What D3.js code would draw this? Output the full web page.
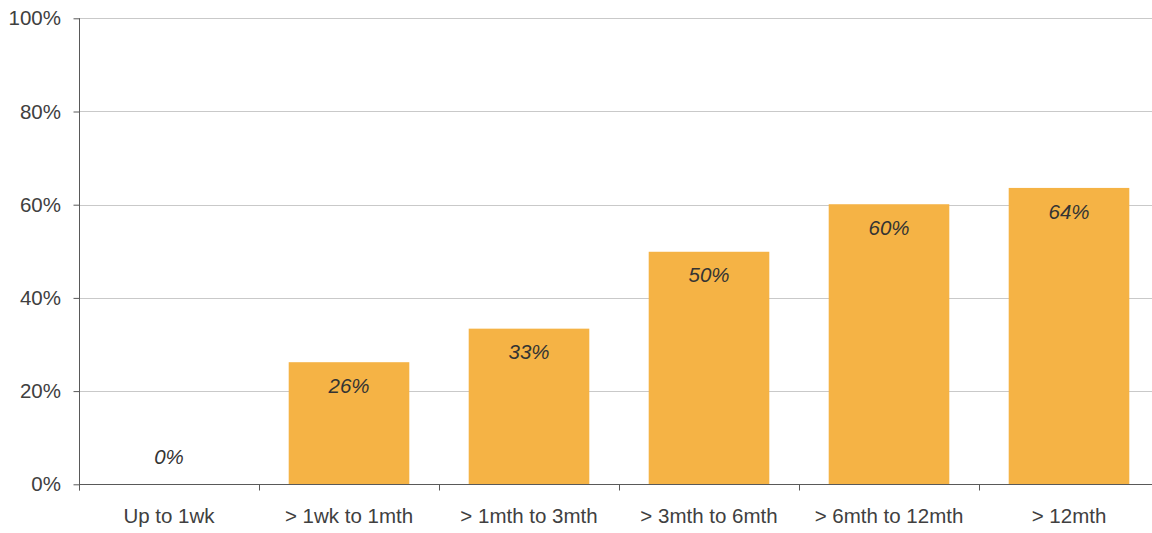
<!DOCTYPE html>
<html>
<head>
<meta charset="utf-8">
<script src="https://cdn.jsdelivr.net/npm/d3@7"></script>
<style>
  html, body { margin: 0; padding: 0; background: #fff; }
  svg { display: block; font-family: "Liberation Sans", Arial, sans-serif; }
</style>
</head>
<body>
<svg id="chart" width="1152" height="533"></svg>
<script>
// Share by duration band
const categories = ["Up to 1wk", "> 1wk to 1mth", "> 1mth to 3mth", "> 3mth to 6mth", "> 6mth to 12mth", "> 12mth"];
const values = [0, 0.262, 0.334, 0.499, 0.601, 0.636];
const yTicks = [0, 0.2, 0.4, 0.6, 0.8, 1.0];

const svg = d3.select("#chart");
const margin = { left: 79, top: 18.3, bottom: 48.7 };
const plotRight = 1159;
const H = 533;
const fontSize = 20.5;

const x = d3.scaleBand()
  .domain(categories)
  .range([margin.left, plotRight])
  .paddingInner(0.33)
  .paddingOuter(0.165);

const y = d3.scaleLinear()
  .domain([0, 1])
  .range([H - margin.bottom, margin.top]);

const fmt = d3.format(".0%");
const textColor = "#404040";

// Horizontal gridlines
svg.append("g")
  .selectAll("line")
  .data(yTicks.filter(d => d > 0))
  .join("line")
  .attr("x1", margin.left)
  .attr("x2", plotRight)
  .attr("y1", d => Math.round(y(d)) + 0.5)
  .attr("y2", d => Math.round(y(d)) + 0.5)
  .attr("stroke", "#c9c9c9")
  .attr("stroke-width", 1);

// Bars
svg.append("g")
  .selectAll("rect")
  .data(values)
  .join("rect")
  .attr("x", (d, i) => x(categories[i]))
  .attr("width", x.bandwidth())
  .attr("y", d => y(d))
  .attr("height", d => y(0) - y(d))
  .attr("fill", "#F5B345");

// Value labels, inside the top of each bar (above the baseline for empty bars)
svg.append("g")
  .selectAll("text")
  .data(values)
  .join("text")
  .attr("x", (d, i) => x(categories[i]) + x.bandwidth() / 2)
  .attr("y", d => d === 0 ? y(0) - 27 : y(d) + 23.5)
  .attr("dy", "0.35em")
  .attr("text-anchor", "middle")
  .attr("font-size", fontSize)
  .attr("font-style", "italic")
  .attr("fill", "#333333")
  .text(d => fmt(d));

// Y axis
const yAxis = d3.axisLeft(y)
  .tickValues(yTicks)
  .tickFormat(fmt)
  .tickSize(6)
  .tickPadding(12.5);

const gy = svg.append("g")
  .attr("transform", `translate(${margin.left + 0.5},0)`)
  .call(yAxis);
gy.select(".domain")
  .attr("d", `M0,${y(1)}V${y(0) + 6}`)
  .attr("stroke", "#595959");
gy.selectAll(".tick line").attr("stroke", "#595959");
gy.selectAll(".tick text")
  .attr("font-size", fontSize)
  .attr("font-family", "Liberation Sans, Arial, sans-serif")
  .attr("fill", textColor);

// X axis: baseline with ticks between categories
const gx = svg.append("g")
  .attr("transform", `translate(0,${Math.round(y(0)) + 0.5})`);
gx.append("line")
  .attr("x1", margin.left)
  .attr("x2", plotRight)
  .attr("stroke", "#595959");
const boundaries = d3.range(categories.length + 1).map(i => margin.left + i * (plotRight - margin.left) / categories.length);
gx.selectAll("line.sep")
  .data(boundaries)
  .join("line")
  .attr("class", "sep")
  .attr("x1", d => Math.round(d) + 0.5)
  .attr("x2", d => Math.round(d) + 0.5)
  .attr("y1", 0)
  .attr("y2", 6)
  .attr("stroke", "#595959");
gx.selectAll("text")
  .data(categories)
  .join("text")
  .attr("x", d => x(d) + x.bandwidth() / 2)
  .attr("y", 31)
  .attr("dy", "0.35em")
  .attr("text-anchor", "middle")
  .attr("font-size", fontSize)
  .attr("fill", textColor)
  .text(d => d);
</script>
</body>
</html>
